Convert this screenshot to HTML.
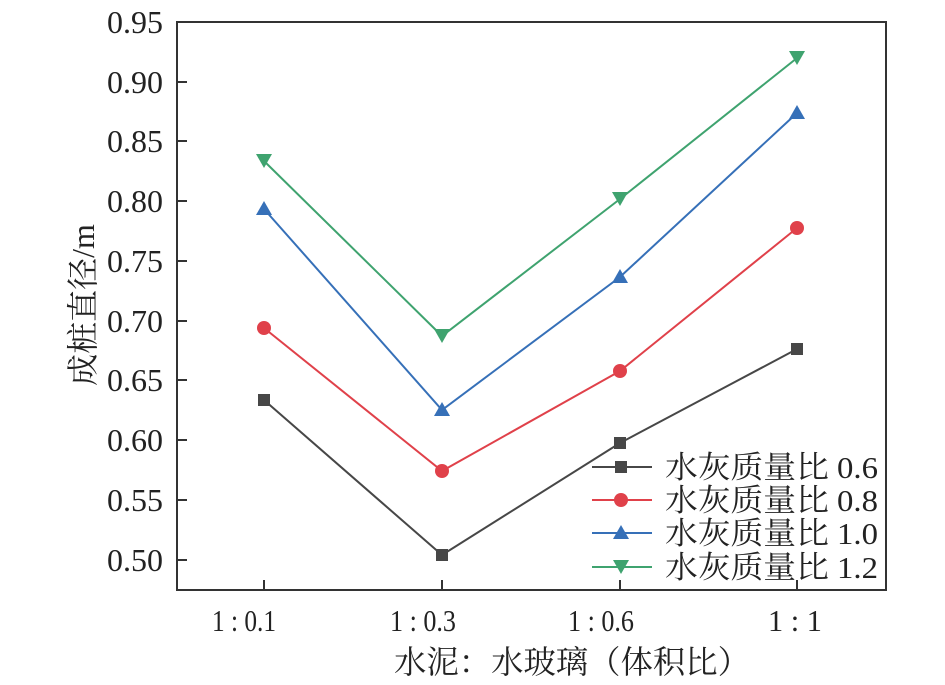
<!DOCTYPE html>
<html><head><meta charset="utf-8"><style>
html,body{margin:0;padding:0;background:#fff;}
svg{display:block;}
text{font-family:"Liberation Serif","Noto Serif CJK SC",serif;fill:#222;}
</style></head><body>
<svg width="945" height="685" viewBox="0 0 945 685" xmlns="http://www.w3.org/2000/svg">
<rect x="177" y="22" width="709" height="568" fill="none" stroke="#333" stroke-width="2"/>
<g stroke="#333" stroke-width="2">
<line x1="177" y1="82" x2="187" y2="82"/><line x1="177" y1="141" x2="187" y2="141"/>
<line x1="177" y1="201" x2="187" y2="201"/><line x1="177" y1="261" x2="187" y2="261"/>
<line x1="177" y1="321" x2="187" y2="321"/><line x1="177" y1="380" x2="187" y2="380"/>
<line x1="177" y1="440" x2="187" y2="440"/><line x1="177" y1="500" x2="187" y2="500"/>
<line x1="177" y1="560" x2="187" y2="560"/>
<line x1="264" y1="590" x2="264" y2="580"/><line x1="442" y1="590" x2="442" y2="580"/>
<line x1="620" y1="590" x2="620" y2="580"/><line x1="797" y1="590" x2="797" y2="580"/>
</g>
<g font-size="32" text-anchor="end">
<text x="163" y="33">0.95</text><text x="163" y="93">0.90</text><text x="163" y="152">0.85</text>
<text x="163" y="212">0.80</text><text x="163" y="272">0.75</text><text x="163" y="332">0.70</text>
<text x="163" y="391">0.65</text><text x="163" y="451">0.60</text><text x="163" y="511">0.55</text>
<text x="163" y="571">0.50</text>
</g>
<g font-size="31">
<text x="212" y="631" textLength="64" lengthAdjust="spacingAndGlyphs">1 : 0.1</text>
<text x="390" y="631" textLength="66" lengthAdjust="spacingAndGlyphs">1 : 0.3</text>
<text x="568" y="631" textLength="66" lengthAdjust="spacingAndGlyphs">1 : 0.6</text>
<text x="768" y="631" textLength="54" lengthAdjust="spacingAndGlyphs">1 : 1</text>
<text x="394" y="673" font-size="32" textLength="356" lengthAdjust="spacingAndGlyphs">水泥：水玻璃（体积比）</text>
</g>
<text font-size="32" text-anchor="middle" transform="translate(94,305) rotate(-90)">成桩直径/m</text>
<polyline points="264,400 442,555 620,443 797,349" fill="none" stroke="#474747" stroke-width="2"/>
<polyline points="264,328 442,471 620,371 797,228" fill="none" stroke="#e0414a" stroke-width="2"/>
<polyline points="264,209 442,410 620,277 797,113" fill="none" stroke="#3670b8" stroke-width="2"/>
<polyline points="264,161 442,336 620,199 797,58" fill="none" stroke="#3fa36f" stroke-width="2"/>
<g fill="#474747"><rect x="258" y="394" width="12" height="12"/><rect x="436" y="549" width="12" height="12"/><rect x="614" y="437" width="12" height="12"/><rect x="791" y="343" width="12" height="12"/></g>
<g fill="#e0414a"><circle cx="264" cy="328" r="7"/><circle cx="442" cy="471" r="7"/><circle cx="620" cy="371" r="7"/><circle cx="797" cy="228" r="7"/></g>
<g fill="#3670b8"><polygon points="264,201 256,215 272,215"/><polygon points="442,402 434,416 450,416"/><polygon points="620,269 612,283 628,283"/><polygon points="797,105 789,119 805,119"/></g>
<g fill="#3fa36f"><polygon points="264,168 256,154 272,154"/><polygon points="442,343 434,329 450,329"/><polygon points="620,206 612,192 628,192"/><polygon points="797,65 789,51 805,51"/></g>
<line x1="592" y1="467" x2="652" y2="467" stroke="#474747" stroke-width="2"/><rect x="615" y="461" width="12" height="12" fill="#474747"/>
<line x1="592" y1="500" x2="652" y2="500" stroke="#e0414a" stroke-width="2"/><circle cx="621" cy="500" r="7" fill="#e0414a"/>
<line x1="592" y1="533" x2="652" y2="533" stroke="#3670b8" stroke-width="2"/><polygon points="621,525 613,539 629,539" fill="#3670b8"/>
<line x1="592" y1="567" x2="652" y2="567" stroke="#3fa36f" stroke-width="2"/><polygon points="621,574 613,560 629,560" fill="#3fa36f"/>
<g font-size="31">
<text x="665" y="478" textLength="213" lengthAdjust="spacingAndGlyphs">水灰质量比 0.6</text>
<text x="665" y="511" textLength="213" lengthAdjust="spacingAndGlyphs">水灰质量比 0.8</text>
<text x="665" y="544" textLength="213" lengthAdjust="spacingAndGlyphs">水灰质量比 1.0</text>
<text x="665" y="578" textLength="213" lengthAdjust="spacingAndGlyphs">水灰质量比 1.2</text>
</g>
</svg>
</body></html>
